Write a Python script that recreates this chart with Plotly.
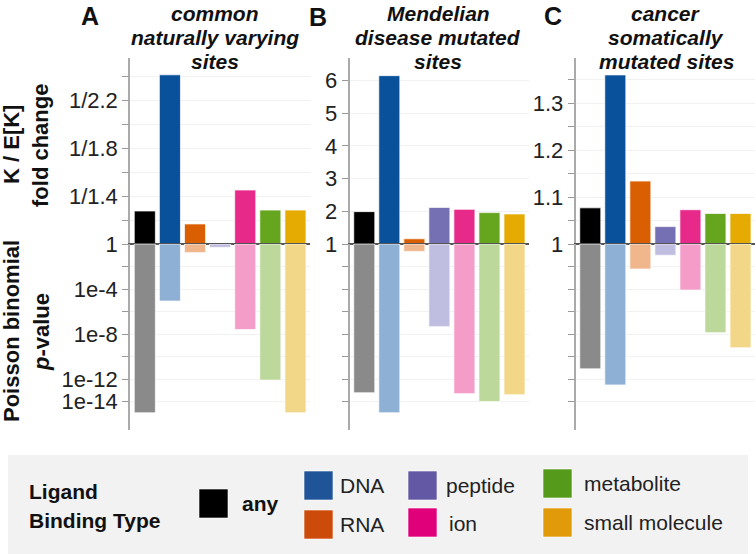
import numpy as np
import plotly.graph_objects as go

W, H = 756, 554

categories = ["any", "DNA", "RNA", "peptide", "ion", "metabolite", "small molecule"]

# fold change K / E[K] (bars start at 1)
fold_common = [1.275, 2.41, 1.167, 0.99, 1.45, 1.283, 1.283]
fold_mendelian = [1.99, 6.15, 1.16, 2.12, 2.06, 1.96, 1.92]
fold_cancer = [1.077, 1.36, 1.134, 1.037, 1.073, 1.065, 1.065]

# Poisson binomial p-values
p_common = [1e-15, 8.5e-6, 0.17, 0.5, 2.5e-8, 8e-13, 1e-15]
p_mendelian = [6e-14, 1e-15, 0.22, 4.5e-8, 5e-14, 1e-14, 4e-14]
p_cancer = [8e-12, 3e-13, 6e-3, 0.1, 8e-5, 1.3e-8, 6e-10]

panel_letters = ["A", "B", "C"]
panel_titles = [["common", "naturally varying", "sites"],
                ["Mendelian", "disease mutated", "sites"],
                ["cancer", "somatically", "mutated sites"]]

top_ticks = [
    ([1, 1.2, 1.4, 1.6, 1.8, 2.0, 2.2, 2.4], ["1", "", "1/1.4", "", "1/1.8", "", "1/2.2", ""]),
    ([1, 2, 3, 4, 5, 6], ["1", "2", "3", "4", "5", "6"]),
    ([1, 1.05, 1.1, 1.15, 1.2, 1.25, 1.3, 1.35], ["1", "", "1.1", "", "1.2", "", "1.3", ""]),
]
top_ranges = [[1, 2.55], [1, 6.69], [1, 1.396]]
p_tickvals = [0, -2, -4, -6, -8, -10, -12, -14]
p_ticktext_A = ["", "", "1e-4", "", "1e-8", "", "1e-12", "1e-14"]

dark_colors = ["#000000", "#0a519c", "#d95f02", "#7570b3", "#e7298a", "#66a61e", "#e6ab02"]
light_colors = ["#8a8a8a", "#8fb0d5", "#f0b68c", "#bfbde0", "#f49dc8", "#bcd89a", "#f3d788"]
legend_colors = ["#000000", "#1f5499", "#cc4a0a", "#6358a3", "#e0007a", "#559a1a", "#e09a0a"]

FONT = "Liberation Sans, Arial, Helvetica, sans-serif"

def px(x):
    return x / W

def py(y):
    return 1 - y / H

x_domains = [[130, 310], [349.5, 529], [575.5, 755]]
top_dom = [py(244), py(58)]
bot_dom = [py(430), py(244)]

folds = [fold_common, fold_mendelian, fold_cancer]
pvals = [p_common, p_mendelian, p_cancer]

fig = go.Figure()
layout = dict(
    template="none",
    width=W, height=H,
    margin=dict(l=0, r=0, t=0, b=0, pad=0, autoexpand=False),
    paper_bgcolor="white", plot_bgcolor="white",
    showlegend=False, bargap=0.16,
    font=dict(family=FONT, size=21, color="#222222"),
)

for i in range(3):
    t = 2 * i + 1
    b = 2 * i + 2
    fold = np.array(folds[i])
    logp = np.log10(np.array(pvals[i]))
    fig.add_trace(go.Bar(
        x=categories, y=fold - 1, base=1,
        marker=dict(color=dark_colors, line=dict(color="rgba(255,255,255,0.7)", width=1)),
        width=0.84, xaxis=f"x{t}", yaxis=f"y{t}", hoverinfo="skip",
    ))
    fig.add_trace(go.Bar(
        x=categories, y=logp,
        marker=dict(color=light_colors, line=dict(color="rgba(255,255,255,0.7)", width=1)),
        width=0.84, xaxis=f"x{b}", yaxis=f"y{b}", hoverinfo="skip",
    ))
    dom = [px(x_domains[i][0]), px(x_domains[i][1])]
    tv, tt = top_ticks[i]
    common_y = dict(ticks="outside", ticklen=6, tickcolor="#999999", tickwidth=1,
                    showgrid=True, gridcolor="#f1f1f1", gridwidth=1,
                    showline=True, linecolor="#aaaaaa", linewidth=1.5,
                    zeroline=False, automargin=False, tickmode="array",
                    tickfont=dict(size=22, color="#222222"))
    layout[f"xaxis{t}"] = dict(domain=dom, anchor=f"y{t}", range=[-0.59, 6.58],
                               showticklabels=False, ticks="", showgrid=False,
                               showline=True, linecolor="#555555", linewidth=1,
                               layer="above traces",
                               zeroline=False, type="category", automargin=False)
    layout[f"xaxis{b}"] = dict(domain=dom, anchor=f"y{b}", range=[-0.59, 6.58], side="top",
                               showticklabels=False, ticks="", showgrid=False,
                               showline=True, linecolor="#555555", linewidth=1,
                               layer="above traces",
                               zeroline=False, type="category", automargin=False)
    layout[f"yaxis{t}"] = dict(domain=top_dom, anchor=f"x{t}", range=top_ranges[i],
                               tickvals=tv, ticktext=tt, **common_y)
    layout[f"yaxis{b}"] = dict(domain=bot_dom, anchor=f"x{b}", range=[-16.53, 0],
                               tickvals=p_tickvals,
                               ticktext=p_ticktext_A if i == 0 else [""] * len(p_tickvals),
                               **common_y)

annotations = []
letter_pos = [(90, 16), (318, 17), (553, 16)]
title_x = [215, 438, 666]
title_line_y = [13, 37, 61]
for i in range(3):
    annotations.append(dict(text=f"<b>{panel_letters[i]}</b>", x=px(letter_pos[i][0]), y=py(letter_pos[i][1]),
                            xref="paper", yref="paper", showarrow=False,
                            xanchor="center", yanchor="middle", font=dict(size=25, color="#111111")))
    for line, ly in zip(panel_titles[i], title_line_y):
        annotations.append(dict(text=f"<b><i>{line}</i></b>", x=px(title_x[i]), y=py(ly),
                                xref="paper", yref="paper", showarrow=False,
                                xanchor="center", yanchor="middle",
                                font=dict(size=21, color="#111111")))

# axis titles
axis_titles = [
    ("<b>K / E[K]</b>", 12, 145),
    ("<b>fold change</b>", 41, 146),
    ("<b>Poisson binomial</b>", 11, 331),
    ("<b><i>p</i>-value</b>", 41, 332),
]
for txt, x, y in axis_titles:
    annotations.append(dict(text=txt, x=px(x), y=py(y), xref="paper", yref="paper",
                            showarrow=False, textangle=-90, xanchor="center", yanchor="middle",
                            font=dict(size=22, color="#111111")))

# legend box
shapes = [dict(type="rect", xref="paper", yref="paper", x0=px(8), x1=px(748), y0=py(554), y1=py(455),
               fillcolor="#f2f2f2", line=dict(width=0), layer="below")]
annotations.append(dict(text="<b>Ligand</b>", x=px(27), y=py(491), xref="paper", yref="paper",
                        showarrow=False, xanchor="left", yanchor="middle",
                        font=dict(size=21, color="#111111")))
annotations.append(dict(text="<b>Binding Type</b>", x=px(27), y=py(520), xref="paper", yref="paper",
                        showarrow=False, xanchor="left", yanchor="middle",
                        font=dict(size=21, color="#111111")))
legend_items = [
    # (category index, square x0, square y0, text x, text y, bold)
    (0, 199, 489, 240, 503, True),
    (1, 304, 471, 338, 485, False),
    (2, 304, 510, 338, 524, False),
    (3, 408, 471, 444, 485, False),
    (4, 408, 508, 447, 523, False),
    (5, 543, 469, 582, 483, False),
    (6, 543, 508, 582, 522, False),
]
for ci, sx, sy, tx, ty, bold in legend_items:
    shapes.append(dict(type="rect", xref="paper", yref="paper", x0=px(sx), x1=px(sx + 29),
                       y0=py(sy + 29), y1=py(sy), fillcolor=legend_colors[ci],
                       line=dict(color="rgba(255,255,255,0.6)", width=1)))
    label = f"<b>{categories[ci]}</b>" if bold else categories[ci]
    annotations.append(dict(text=label, x=px(tx), y=py(ty), xref="paper", yref="paper",
                            showarrow=False, xanchor="left", yanchor="middle",
                            font=dict(size=21, color="#111111" if bold else "#222222")))

layout["annotations"] = annotations
layout["shapes"] = shapes
fig.update_layout(**layout)
fig.write_html("out.html", config={"displayModeBar": False},
               post_script="document.body.style.margin='0';document.body.style.padding='0';")
